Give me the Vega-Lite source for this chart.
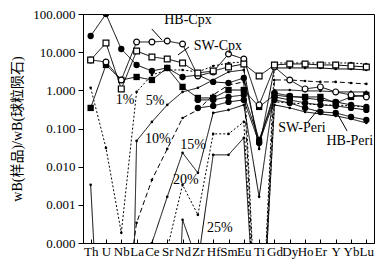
{
  "$schema": "https://vega.github.io/schema/vega-lite/v6.json",
  "width": 291,
  "height": 229,
  "autosize": {"type": "none"},
  "padding": {"left": 83, "top": 14, "right": 15, "bottom": 30},
  "background": "white",
  "config": {
    "view": {"stroke": "black", "strokeWidth": 1},
    "font": "Liberation Serif",
    "axis": {"grid": false, "domainColor": "black", "tickColor": "black", "labelColor": "black", "titleColor": "black", "labelFont": "Liberation Serif", "titleFont": "Liberation Serif, Noto Sans CJK SC"}
  },
  "datasets": {
    "series": [
      {"s":"Cpx1","e":"Th","v":26.5},{"s":"Cpx1","e":"U","v":100},{"s":"Cpx1","e":"Nb","v":12.1},{"s":"Cpx1","e":"La","v":4.62},{"s":"Cpx1","e":"Ce","v":3.22},{"s":"Cpx1","e":"Sr","v":3.86},{"s":"Cpx1","e":"Nd","v":2.24},{"s":"Cpx1","e":"Zr","v":2.53},{"s":"Cpx1","e":"Hf","v":1.66},{"s":"Cpx1","e":"Sm","v":1.56},{"s":"Cpx1","e":"Eu","v":2.11},{"s":"Cpx1","e":"Ti","v":0.0446},{"s":"Cpx1","e":"Gd","v":0.855},{"s":"Cpx1","e":"Dy","v":0.713},{"s":"Cpx1","e":"Ho","v":0.632},{"s":"Cpx1","e":"Er","v":0.561},{"s":"Cpx1","e":"Y","v":0.497},{"s":"Cpx1","e":"Yb","v":0.415},{"s":"Cpx1","e":"Lu","v":0.368},
      {"s":"SW-Cpx","e":"Th","v":6.25},{"s":"SW-Cpx","e":"U","v":17.4},{"s":"SW-Cpx","e":"Nb","v":1.09},{"s":"SW-Cpx","e":"La","v":10.7},{"s":"SW-Cpx","e":"Ce","v":7.49},{"s":"SW-Cpx","e":"Sr","v":6.64},{"s":"SW-Cpx","e":"Nd","v":5.21},{"s":"SW-Cpx","e":"Zr","v":2.85},{"s":"SW-Cpx","e":"Hf","v":3.22},{"s":"SW-Cpx","e":"Sm","v":4.1},{"s":"SW-Cpx","e":"Eu","v":4.91},{"s":"SW-Cpx","e":"Ti","v":2.38},{"s":"SW-Cpx","e":"Gd","v":4.62},{"s":"SW-Cpx","e":"Dy","v":4.91},{"s":"SW-Cpx","e":"Ho","v":4.91},{"s":"SW-Cpx","e":"Er","v":4.62},{"s":"SW-Cpx","e":"Y","v":4.62},{"s":"SW-Cpx","e":"Yb","v":4.35},{"s":"SW-Cpx","e":"Lu","v":4.1},
      {"s":"HB-Cpx","e":"Th","v":6.25},{"s":"HB-Cpx","e":"U","v":5.54},{"s":"HB-Cpx","e":"Nb","v":1.87},{"s":"HB-Cpx","e":"La","v":18.5},{"s":"HB-Cpx","e":"Ce","v":18.5},{"s":"HB-Cpx","e":"Sr","v":19.6},{"s":"HB-Cpx","e":"Nd","v":16.4},{"s":"HB-Cpx","e":"Zr","v":2.38},{"s":"HB-Cpx","e":"Hf","v":3.03},{"s":"HB-Cpx","e":"Sm","v":8.97},{"s":"HB-Cpx","e":"Eu","v":6.64},{"s":"HB-Cpx","e":"Ti","v":0.415},{"s":"HB-Cpx","e":"Gd","v":4.1},{"s":"HB-Cpx","e":"Dy","v":1.87},{"s":"HB-Cpx","e":"Ho","v":1.09},{"s":"HB-Cpx","e":"Er","v":1.23},{"s":"HB-Cpx","e":"Y","v":0.908},{"s":"HB-Cpx","e":"Yb","v":0.758},{"s":"HB-Cpx","e":"Lu","v":0.671},
      {"s":"Cpx4","e":"Th","v":0.346},{"s":"Cpx4","e":"U","v":4.62},{"s":"Cpx4","e":"Nb","v":1.87},{"s":"Cpx4","e":"La","v":2.24},{"s":"Cpx4","e":"Ce","v":1.87},{"s":"Cpx4","e":"Sr","v":3.86},{"s":"Cpx4","e":"Nd","v":1.23},{"s":"Cpx4","e":"Zr","v":0.632},{"s":"Cpx4","e":"Hf","v":0.632},{"s":"Cpx4","e":"Sm","v":1.02},{"s":"Cpx4","e":"Eu","v":1.02},{"s":"Cpx4","e":"Ti","v":0.368},{"s":"Cpx4","e":"Gd","v":0.758},{"s":"Cpx4","e":"Dy","v":0.671},{"s":"Cpx4","e":"Ho","v":0.671},{"s":"Cpx4","e":"Er","v":0.671},{"s":"Cpx4","e":"Y","v":0.468},{"s":"Cpx4","e":"Yb","v":0.671},{"s":"Cpx4","e":"Lu","v":0.758},
      {"s":"SW-Peri","e":"Zr","v":0.561},{"s":"SW-Peri","e":"Hf","v":0.561},{"s":"SW-Peri","e":"Sm","v":0.671},{"s":"SW-Peri","e":"Eu","v":0.758},{"s":"SW-Peri","e":"Ti","v":0.0503},{"s":"SW-Peri","e":"Gd","v":0.671},{"s":"SW-Peri","e":"Dy","v":0.561},{"s":"SW-Peri","e":"Ho","v":0.468},{"s":"SW-Peri","e":"Er","v":0.415},{"s":"SW-Peri","e":"Y","v":0.391},{"s":"SW-Peri","e":"Yb","v":0.346},{"s":"SW-Peri","e":"Lu","v":0.307},
      {"s":"HB-Peri","e":"Zr","v":0.346},{"s":"HB-Peri","e":"Hf","v":0.391},{"s":"HB-Peri","e":"Sm","v":0.497},{"s":"HB-Peri","e":"Eu","v":0.561},{"s":"HB-Peri","e":"Ti","v":0.042},{"s":"HB-Peri","e":"Gd","v":0.561},{"s":"HB-Peri","e":"Dy","v":0.468},{"s":"HB-Peri","e":"Ho","v":0.346},{"s":"HB-Peri","e":"Er","v":0.272},{"s":"HB-Peri","e":"Y","v":0.256},{"s":"HB-Peri","e":"Yb","v":0.201},{"s":"HB-Peri","e":"Lu","v":0.168},
      {"s":"1%","e":"Th","v":1.16},{"s":"1%","e":"U","v":0.031},{"s":"1%","e":"Nb","v":0.000185},{"s":"1%","e":"La","v":0.908},{"s":"1%","e":"Ce","v":2.53},{"s":"1%","e":"Sr","v":3.42},{"s":"1%","e":"Nd","v":3.42},{"s":"1%","e":"Zr","v":3.03},{"s":"1%","e":"Hf","v":4.35},{"s":"1%","e":"Sm","v":5.21},{"s":"1%","e":"Eu","v":5.54},{"s":"1%","e":"Ti","v":1e-8},{"s":"1%","e":"Gd","v":5.21},{"s":"1%","e":"Dy","v":5.21},{"s":"1%","e":"Ho","v":5.21},{"s":"1%","e":"Er","v":5.21},{"s":"1%","e":"Y","v":5.21},{"s":"1%","e":"Yb","v":5.21},{"s":"1%","e":"Lu","v":4.91},
      {"s":"5%","e":"Th","v":0.00334},{"s":"5%","e":"U","v":1e-10},{"s":"5%","e":"Nb","v":1e-20},{"s":"5%","e":"La","v":0.0473},{"s":"5%","e":"Ce","v":0.149},{"s":"5%","e":"Sr","v":0.415},{"s":"5%","e":"Nd","v":0.908},{"s":"5%","e":"Zr","v":1.16},{"s":"5%","e":"Hf","v":1.87},{"s":"5%","e":"Sm","v":3.03},{"s":"5%","e":"Eu","v":3.42},{"s":"5%","e":"Ti","v":0.0292},{"s":"5%","e":"Gd","v":3.86},{"s":"5%","e":"Dy","v":3.86},{"s":"5%","e":"Ho","v":3.86},{"s":"5%","e":"Er","v":3.86},{"s":"5%","e":"Y","v":3.63},{"s":"5%","e":"Yb","v":3.63},{"s":"5%","e":"Lu","v":3.42},
      {"s":"10%","e":"Nb","v":5e-7},{"s":"10%","e":"La","v":0.000338},{"s":"10%","e":"Ce","v":0.00451},{"s":"10%","e":"Sr","v":0.0292},{"s":"10%","e":"Nd","v":0.189},{"s":"10%","e":"Zr","v":0.307},{"s":"10%","e":"Hf","v":0.758},{"s":"10%","e":"Sm","v":1.38},{"s":"10%","e":"Eu","v":1.66},{"s":"10%","e":"Ti","v":1e-8},{"s":"10%","e":"Gd","v":1.87},{"s":"10%","e":"Dy","v":1.87},{"s":"10%","e":"Ho","v":1.76},{"s":"10%","e":"Er","v":1.66},{"s":"10%","e":"Y","v":1.66},{"s":"10%","e":"Yb","v":1.56},{"s":"10%","e":"Lu","v":1.47},
      {"s":"15%","e":"Ce","v":0.0001},{"s":"15%","e":"Sr","v":0.00162},{"s":"15%","e":"Nd","v":0.023},{"s":"15%","e":"Zr","v":0.00689},{"s":"15%","e":"Hf","v":0.256},{"s":"15%","e":"Sm","v":0.307},{"s":"15%","e":"Eu","v":0.415},{"s":"15%","e":"Ti","v":0.00162},{"s":"15%","e":"Gd","v":1.02},{"s":"15%","e":"Dy","v":1.02},{"s":"15%","e":"Ho","v":0.965},{"s":"15%","e":"Er","v":0.965},{"s":"15%","e":"Y","v":0.908},{"s":"15%","e":"Yb","v":0.908},{"s":"15%","e":"Lu","v":0.908},
      {"s":"20%","e":"Sr","v":7e-5},{"s":"20%","e":"Nd","v":0.00334},{"s":"20%","e":"Zr","v":0.000547},{"s":"20%","e":"Hf","v":0.0723},{"s":"20%","e":"Sm","v":0.0723},{"s":"20%","e":"Eu","v":0.149},{"s":"20%","e":"Ti","v":1e-8},{"s":"20%","e":"Gd","v":0.497},{"s":"20%","e":"Dy","v":0.468},{"s":"20%","e":"Ho","v":0.441},{"s":"20%","e":"Er","v":0.415},{"s":"20%","e":"Y","v":0.415},{"s":"20%","e":"Yb","v":0.391},{"s":"20%","e":"Lu","v":0.368},
      {"s":"25%","e":"Sr","v":1e-12},{"s":"25%","e":"Nd","v":0.000405},{"s":"25%","e":"Zr","v":3e-5},{"s":"25%","e":"Hf","v":0.0204},{"s":"25%","e":"Sm","v":0.0204},{"s":"25%","e":"Eu","v":0.0568},{"s":"25%","e":"Ti","v":1e-8},{"s":"25%","e":"Gd","v":0.415},{"s":"25%","e":"Dy","v":0.346},{"s":"25%","e":"Ho","v":0.272},{"s":"25%","e":"Er","v":0.241},{"s":"25%","e":"Y","v":0.214},{"s":"25%","e":"Yb","v":0.178},{"s":"25%","e":"Lu","v":0.14}
    ],
    "labels": [
      {"t":"HB-Cpx","i":6.35,"v":69.7},
      {"t":"SW-Cpx","i":8.31,"v":14.5},
      {"t":"1%","i":2.24,"v":0.561},
      {"t":"5%","i":4.2,"v":0.534},
      {"t":"10%","i":4.39,"v":0.0535},
      {"t":"15%","i":6.68,"v":0.0372},
      {"t":"20%","i":6.22,"v":0.00451},
      {"t":"25%","i":8.44,"v":0.00025},
      {"t":"SW-Peri","i":13.79,"v":0.1038},
      {"t":"HB-Peri","i":16.92,"v":0.0473}
    ],
    "arrows": [
      {"i":3.99,"v":40.5,"i2":4.65,"v2":20.9},
      {"i":6.42,"v":13.7,"i2":5.7,"v2":8.45},
      {"i":14.19,"v":0.149,"i2":15.1,"v2":0.415},
      {"i":16.74,"v":0.0865,"i2":16.08,"v2":0.256}
    ]
  },
  "encoding": {
    "x": {
      "field": "i", "type": "quantitative",
      "scale": {"domain": [-0.5, 18.5], "nice": false, "zero": false},
      "axis": {
        "title": null,
        "values": [0,1,2,3,4,5,6,7,8,9,10,11,12,13,14,15,16,17,18],
        "labelExpr": "['Th','U','Nb','La','Ce','Sr','Nd','Zr','Hf','Sm','Eu','Ti','Gd','Dy','Ho','Er','Y','Yb','Lu'][datum.value]",
        "labelFontSize": 13,
        "labelOverlap": false,
        "labelFlush": false,
        "tickSize": -4,
        "labelPadding": 6
      }
    },
    "y": {
      "field": "v", "type": "quantitative",
      "scale": {"type": "log", "domain": [0.0001, 100], "nice": false},
      "axis": {
        "title": "wB(样品)/wB(球粒陨石)",
        "titleFontSize": 14,
        "titleFontWeight": "normal",
        "titlePadding": 8,
        "values": [0.0001, 0.001, 0.01, 0.1, 1, 10, 100],
        "format": ".3f",
        "labelFontSize": 13,
        "tickSize": 5,
        "labelPadding": 3
      }
    }
  },
  "layer": [
    {
      "data": {"name": "series"},
      "transform": [{"calculate": "indexof(['Th','U','Nb','La','Ce','Sr','Nd','Zr','Hf','Sm','Eu','Ti','Gd','Dy','Ho','Er','Y','Yb','Lu'], datum.e)", "as": "i"}],
      "mark": {"type": "line", "clip": true, "color": "black", "strokeWidth": 1},
      "encoding": {
        "detail": {"field": "s"},
        "order": {"field": "i"},
        "strokeDash": {
          "field": "s", "type": "nominal", "legend": null,
          "scale": {
            "domain": ["Cpx1","SW-Cpx","HB-Cpx","Cpx4","SW-Peri","HB-Peri","1%","5%","10%","15%","20%","25%"],
            "range": [[1,0],[1,0],[1,0],[1,0],[1,0],[1,0],[2,2],[1,0],[5,3],[1,0],[2,2],[1,0]]
          }
        }
      }
    },
    {
      "data": {"name": "series"},
      "transform": [
        {"calculate": "indexof(['Th','U','Nb','La','Ce','Sr','Nd','Zr','Hf','Sm','Eu','Ti','Gd','Dy','Ho','Er','Y','Yb','Lu'], datum.e)", "as": "i"},
        {"filter": {"field": "s", "oneOf": ["1%","5%","10%","15%","20%","25%"]}}
      ],
      "mark": {"type": "circle", "clip": true, "color": "black", "size": 7, "opacity": 1}
    },
    {
      "data": {"name": "series"},
      "transform": [
        {"calculate": "indexof(['Th','U','Nb','La','Ce','Sr','Nd','Zr','Hf','Sm','Eu','Ti','Gd','Dy','Ho','Er','Y','Yb','Lu'], datum.e)", "as": "i"},
        {"filter": {"field": "s", "oneOf": ["Cpx1","SW-Peri","HB-Peri"]}}
      ],
      "mark": {"type": "circle", "clip": true, "color": "black", "size": 40, "opacity": 1}
    },
    {
      "data": {"name": "series"},
      "transform": [
        {"calculate": "indexof(['Th','U','Nb','La','Ce','Sr','Nd','Zr','Hf','Sm','Eu','Ti','Gd','Dy','Ho','Er','Y','Yb','Lu'], datum.e)", "as": "i"},
        {"filter": {"field": "s", "equal": "Cpx4"}}
      ],
      "mark": {"type": "square", "clip": true, "color": "black", "size": 40, "opacity": 1}
    },
    {
      "data": {"name": "series"},
      "transform": [
        {"calculate": "indexof(['Th','U','Nb','La','Ce','Sr','Nd','Zr','Hf','Sm','Eu','Ti','Gd','Dy','Ho','Er','Y','Yb','Lu'], datum.e)", "as": "i"},
        {"filter": {"field": "s", "equal": "HB-Cpx"}}
      ],
      "mark": {"type": "point", "shape": "circle", "clip": true, "filled": true, "fill": "white", "stroke": "black", "strokeWidth": 1.2, "size": 34, "opacity": 1}
    },
    {
      "data": {"name": "series"},
      "transform": [
        {"calculate": "indexof(['Th','U','Nb','La','Ce','Sr','Nd','Zr','Hf','Sm','Eu','Ti','Gd','Dy','Ho','Er','Y','Yb','Lu'], datum.e)", "as": "i"},
        {"filter": {"field": "s", "equal": "SW-Cpx"}}
      ],
      "mark": {"type": "point", "shape": "square", "clip": true, "filled": true, "fill": "white", "stroke": "black", "strokeWidth": 1.2, "size": 34, "opacity": 1}
    },
    {
      "data": {"name": "arrows"},
      "mark": {"type": "rule", "color": "black", "strokeWidth": 1},
      "encoding": {
        "x2": {"field": "i2"},
        "y2": {"field": "v2"}
      }
    },
    {
      "data": {"name": "labels"},
      "mark": {"type": "text", "font": "Liberation Serif", "fontSize": 14, "color": "black", "align": "center", "baseline": "middle"},
      "encoding": {
        "text": {"field": "t"}
      }
    }
  ]
}
